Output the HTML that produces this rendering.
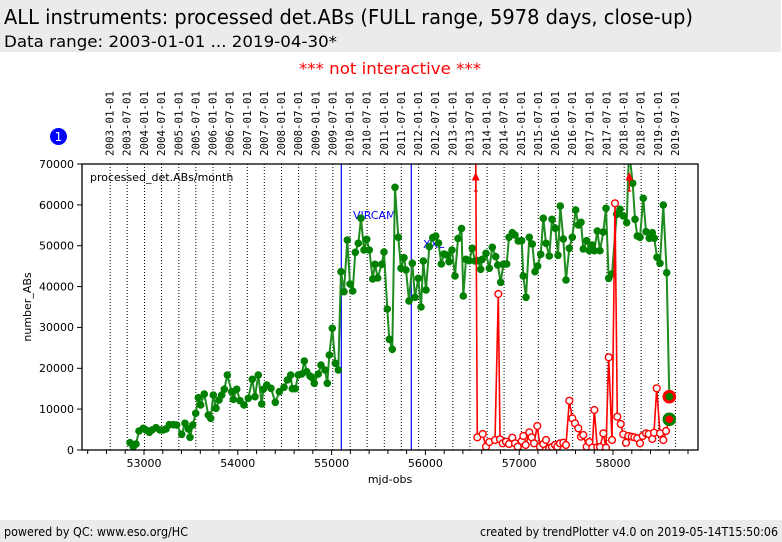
<!DOCTYPE html>
<html><head><meta charset="utf-8"><style>
html,body{margin:0;padding:0;background:#fff;}
svg{display:block;}
text{font-family:"DejaVu Sans","Liberation Sans",sans-serif;}
.mono{font-family:"DejaVu Sans Mono","Liberation Mono",monospace;}
</style></head><body>
<svg width="782" height="542" viewBox="0 0 782 542" xmlns="http://www.w3.org/2000/svg">
<rect x="0" y="0" width="782" height="542" fill="#fff"/>
<rect x="0" y="0" width="781" height="52" fill="#ebebeb"/>
<text x="4" y="24" font-size="20" fill="#000" textLength="689" lengthAdjust="spacingAndGlyphs">ALL instruments: processed det.ABs (FULL range, 5978 days, close-up)</text>
<text x="4" y="47" font-size="16" fill="#000" textLength="333" lengthAdjust="spacingAndGlyphs">Data range: 2003-01-01 ... 2019-04-30*</text>
<text x="299" y="74" font-size="16" fill="#ff0000" textLength="182" lengthAdjust="spacingAndGlyphs">*** not interactive ***</text>

<circle cx="58.5" cy="136.5" r="8.5" fill="#0000ff"/>
<text x="58.5" y="141" font-size="12" fill="#fff" text-anchor="middle">1</text>

<g font-size="10.5" fill="#000">
<text class="mono" transform="translate(113.7,156) rotate(-90)" text-anchor="start" textLength="65" lengthAdjust="spacingAndGlyphs">2003-01-01</text>
<text class="mono" transform="translate(130.7,156) rotate(-90)" text-anchor="start" textLength="65" lengthAdjust="spacingAndGlyphs">2003-07-01</text>
<text class="mono" transform="translate(148,156) rotate(-90)" text-anchor="start" textLength="65" lengthAdjust="spacingAndGlyphs">2004-01-01</text>
<text class="mono" transform="translate(165,156) rotate(-90)" text-anchor="start" textLength="65" lengthAdjust="spacingAndGlyphs">2004-07-01</text>
<text class="mono" transform="translate(182.3,156) rotate(-90)" text-anchor="start" textLength="65" lengthAdjust="spacingAndGlyphs">2005-01-01</text>
<text class="mono" transform="translate(199.3,156) rotate(-90)" text-anchor="start" textLength="65" lengthAdjust="spacingAndGlyphs">2005-07-01</text>
<text class="mono" transform="translate(216.5,156) rotate(-90)" text-anchor="start" textLength="65" lengthAdjust="spacingAndGlyphs">2006-01-01</text>
<text class="mono" transform="translate(233.5,156) rotate(-90)" text-anchor="start" textLength="65" lengthAdjust="spacingAndGlyphs">2006-07-01</text>
<text class="mono" transform="translate(250.8,156) rotate(-90)" text-anchor="start" textLength="65" lengthAdjust="spacingAndGlyphs">2007-01-01</text>
<text class="mono" transform="translate(267.8,156) rotate(-90)" text-anchor="start" textLength="65" lengthAdjust="spacingAndGlyphs">2007-07-01</text>
<text class="mono" transform="translate(285,156) rotate(-90)" text-anchor="start" textLength="65" lengthAdjust="spacingAndGlyphs">2008-01-01</text>
<text class="mono" transform="translate(302.1,156) rotate(-90)" text-anchor="start" textLength="65" lengthAdjust="spacingAndGlyphs">2008-07-01</text>
<text class="mono" transform="translate(319.3,156) rotate(-90)" text-anchor="start" textLength="65" lengthAdjust="spacingAndGlyphs">2009-01-01</text>
<text class="mono" transform="translate(336.3,156) rotate(-90)" text-anchor="start" textLength="65" lengthAdjust="spacingAndGlyphs">2009-07-01</text>
<text class="mono" transform="translate(353.6,156) rotate(-90)" text-anchor="start" textLength="65" lengthAdjust="spacingAndGlyphs">2010-01-01</text>
<text class="mono" transform="translate(370.6,156) rotate(-90)" text-anchor="start" textLength="65" lengthAdjust="spacingAndGlyphs">2010-07-01</text>
<text class="mono" transform="translate(387.8,156) rotate(-90)" text-anchor="start" textLength="65" lengthAdjust="spacingAndGlyphs">2011-01-01</text>
<text class="mono" transform="translate(404.8,156) rotate(-90)" text-anchor="start" textLength="65" lengthAdjust="spacingAndGlyphs">2011-07-01</text>
<text class="mono" transform="translate(422.1,156) rotate(-90)" text-anchor="start" textLength="65" lengthAdjust="spacingAndGlyphs">2012-01-01</text>
<text class="mono" transform="translate(439.1,156) rotate(-90)" text-anchor="start" textLength="65" lengthAdjust="spacingAndGlyphs">2012-07-01</text>
<text class="mono" transform="translate(456.4,156) rotate(-90)" text-anchor="start" textLength="65" lengthAdjust="spacingAndGlyphs">2013-01-01</text>
<text class="mono" transform="translate(473.4,156) rotate(-90)" text-anchor="start" textLength="65" lengthAdjust="spacingAndGlyphs">2013-07-01</text>
<text class="mono" transform="translate(490.6,156) rotate(-90)" text-anchor="start" textLength="65" lengthAdjust="spacingAndGlyphs">2014-01-01</text>
<text class="mono" transform="translate(507.6,156) rotate(-90)" text-anchor="start" textLength="65" lengthAdjust="spacingAndGlyphs">2014-07-01</text>
<text class="mono" transform="translate(524.9,156) rotate(-90)" text-anchor="start" textLength="65" lengthAdjust="spacingAndGlyphs">2015-01-01</text>
<text class="mono" transform="translate(541.8,156) rotate(-90)" text-anchor="start" textLength="65" lengthAdjust="spacingAndGlyphs">2015-07-01</text>
<text class="mono" transform="translate(559.1,156) rotate(-90)" text-anchor="start" textLength="65" lengthAdjust="spacingAndGlyphs">2016-01-01</text>
<text class="mono" transform="translate(576.2,156) rotate(-90)" text-anchor="start" textLength="65" lengthAdjust="spacingAndGlyphs">2016-07-01</text>
<text class="mono" transform="translate(593.4,156) rotate(-90)" text-anchor="start" textLength="65" lengthAdjust="spacingAndGlyphs">2017-01-01</text>
<text class="mono" transform="translate(610.4,156) rotate(-90)" text-anchor="start" textLength="65" lengthAdjust="spacingAndGlyphs">2017-07-01</text>
<text class="mono" transform="translate(627.7,156) rotate(-90)" text-anchor="start" textLength="65" lengthAdjust="spacingAndGlyphs">2018-01-01</text>
<text class="mono" transform="translate(644.6,156) rotate(-90)" text-anchor="start" textLength="65" lengthAdjust="spacingAndGlyphs">2018-07-01</text>
<text class="mono" transform="translate(661.9,156) rotate(-90)" text-anchor="start" textLength="65" lengthAdjust="spacingAndGlyphs">2019-01-01</text>
<text class="mono" transform="translate(678.9,156) rotate(-90)" text-anchor="start" textLength="65" lengthAdjust="spacingAndGlyphs">2019-07-01</text>
</g>

<defs><clipPath id="pc"><rect x="82" y="164" width="616" height="286"/></clipPath></defs>

<g stroke="#000" stroke-width="1" stroke-dasharray="1,2">
<line x1="110.2" y1="164" x2="110.2" y2="450"/><line x1="127.2" y1="164" x2="127.2" y2="450"/>
<line x1="144.5" y1="164" x2="144.5" y2="450"/><line x1="161.5" y1="164" x2="161.5" y2="450"/>
<line x1="178.8" y1="164" x2="178.8" y2="450"/><line x1="195.8" y1="164" x2="195.8" y2="450"/>
<line x1="213" y1="164" x2="213" y2="450"/><line x1="230" y1="164" x2="230" y2="450"/>
<line x1="247.3" y1="164" x2="247.3" y2="450"/><line x1="264.3" y1="164" x2="264.3" y2="450"/>
<line x1="281.5" y1="164" x2="281.5" y2="450"/><line x1="298.6" y1="164" x2="298.6" y2="450"/>
<line x1="315.8" y1="164" x2="315.8" y2="450"/><line x1="332.8" y1="164" x2="332.8" y2="450"/>
<line x1="350.1" y1="164" x2="350.1" y2="450"/><line x1="367.1" y1="164" x2="367.1" y2="450"/>
<line x1="384.3" y1="164" x2="384.3" y2="450"/><line x1="401.3" y1="164" x2="401.3" y2="450"/>
<line x1="418.6" y1="164" x2="418.6" y2="450"/><line x1="435.6" y1="164" x2="435.6" y2="450"/>
<line x1="452.9" y1="164" x2="452.9" y2="450"/><line x1="469.9" y1="164" x2="469.9" y2="450"/>
<line x1="487.1" y1="164" x2="487.1" y2="450"/><line x1="504.1" y1="164" x2="504.1" y2="450"/>
<line x1="521.4" y1="164" x2="521.4" y2="450"/><line x1="538.3" y1="164" x2="538.3" y2="450"/>
<line x1="555.6" y1="164" x2="555.6" y2="450"/><line x1="572.7" y1="164" x2="572.7" y2="450"/>
<line x1="589.9" y1="164" x2="589.9" y2="450"/><line x1="606.9" y1="164" x2="606.9" y2="450"/>
<line x1="624.2" y1="164" x2="624.2" y2="450"/><line x1="641.1" y1="164" x2="641.1" y2="450"/>
<line x1="658.4" y1="164" x2="658.4" y2="450"/><line x1="675.4" y1="164" x2="675.4" y2="450"/>
</g>

<line x1="341.3" y1="164" x2="341.3" y2="450" stroke="#0000ff" stroke-width="1.2"/>
<line x1="411.3" y1="164" x2="411.3" y2="450" stroke="#0000ff" stroke-width="1.2"/>
<text x="353" y="219" font-size="11" fill="#0000ff">VIRCAM</text>
<text x="423" y="248" font-size="11" fill="#0000ff">XXL</text>

<text x="90" y="181" font-size="11" fill="#000">processed_det.ABs/month</text>

<g clip-path="url(#pc)">
<polyline fill="none" stroke="#1e8c1e" stroke-width="2" stroke-linejoin="round" points="130,442.7 133.3,446.7 136,444 139,431 143.3,428.3 146,430 149.3,432.3 152,430 156,427.7 160,430 163,430 166,429 169.3,424.7 173.3,424.7 176.7,425 181.7,434.3 185,423.3 188.3,429 190,437.3 192.7,425 195.7,413.3 198.3,397.7 200.7,405 204.3,394 208.3,415 210.7,418.3 213.3,395 216,408.3 219,400 221.7,395 224.3,389.3 227.3,375 231.7,391.7 233.3,399.3 236.7,389.3 240,400.7 244,405 248.3,398.3 252.3,379.3 255,396.7 258.3,375 261.7,404 263.3,389.3 266.7,385 271,388.3 275.3,402.3 279.3,391.7 284,387.3 287.3,380 290.7,375 292.3,388.7 295.3,388.7 298.3,375 301.7,374 304.3,361 306.7,371.7 310,376 311.7,377.3 314.3,383.3 318.3,374 321,365 325,370 327.3,383.3 329.3,355 332.3,328.3 335.3,363.3 338.3,370 341,271.7 344,291.7 347.3,240 350,284 352.7,291 355.3,252.3 358.3,243.3 361,218.3 364,250 366.7,239.3 369.3,250 372.7,279 375,264.3 377.7,278 381.7,264.3 384,252 387.3,309 389.3,339.3 392.3,349.3 395,187.3 398.3,237.3 401,268.3 404,257.7 406,270 409,301 412.3,263.3 415,297.3 418.3,278.3 421,307 423.3,261 426,290 429.3,246.7 432.7,237.7 435.7,236 438.5,243 441.3,264 444,254 446.7,255 449,261.7 452,250 455,276 458,238.5 461.5,228.5 463.3,296 466,259.3 469.3,260.7 472.3,248.3 475,261 478.3,260.7 480.7,269.3 482.3,259.3 486,253.3 489.3,268.3 492.3,247.3 495.7,256.7 497.7,265 500.7,282.3 503.3,264.3 506.7,264 509,237.3 512.3,232.7 515,235 518.3,241 521.7,240.7 523.3,276 526,297.3 529.3,237.3 532.3,244 535,271.7 537.7,266 540.7,254.3 543.3,218.3 546,243.3 549.3,256 552,219.3 555.3,228.3 558,255.3 560.3,206 563.3,239 566,280 569.3,248.3 572.3,237.3 575.7,210 578.3,225 581,222.3 583.3,249 586.7,240.7 589.3,250.7 592.3,245 594.3,250.7 597.3,231 600,250.7 603.3,232 606,208.3 608.7,278.3 612,274 616.7,214.3 620,209.3 623.3,216 626.7,222.7 629,150 632.7,183.3 635,219.3 637.3,236 640,237.3 643.3,198.3 646,231.7 649.3,238.3 652.3,232.7 654.3,238.3 657,257.3 660,263.3 663.3,205 666.7,272.7 669.3,396.7"/>
<g fill="#008000">
<circle cx="130" cy="442.7" r="3.8"/><circle cx="133.3" cy="446.7" r="3.8"/><circle cx="136" cy="444" r="3.8"/><circle cx="139" cy="431" r="3.8"/><circle cx="143.3" cy="428.3" r="3.8"/><circle cx="146" cy="430" r="3.8"/><circle cx="149.3" cy="432.3" r="3.8"/><circle cx="152" cy="430" r="3.8"/><circle cx="156" cy="427.7" r="3.8"/><circle cx="160" cy="430" r="3.8"/><circle cx="163" cy="430" r="3.8"/><circle cx="166" cy="429" r="3.8"/><circle cx="169.3" cy="424.7" r="3.8"/><circle cx="173.3" cy="424.7" r="3.8"/><circle cx="176.7" cy="425" r="3.8"/><circle cx="181.7" cy="434.3" r="3.8"/><circle cx="185" cy="423.3" r="3.8"/><circle cx="188.3" cy="429" r="3.8"/><circle cx="190" cy="437.3" r="3.8"/><circle cx="192.7" cy="425" r="3.8"/><circle cx="195.7" cy="413.3" r="3.8"/><circle cx="198.3" cy="397.7" r="3.8"/><circle cx="200.7" cy="405" r="3.8"/><circle cx="204.3" cy="394" r="3.8"/><circle cx="208.3" cy="415" r="3.8"/><circle cx="210.7" cy="418.3" r="3.8"/><circle cx="213.3" cy="395" r="3.8"/><circle cx="216" cy="408.3" r="3.8"/><circle cx="219" cy="400" r="3.8"/><circle cx="221.7" cy="395" r="3.8"/><circle cx="224.3" cy="389.3" r="3.8"/><circle cx="227.3" cy="375" r="3.8"/><circle cx="231.7" cy="391.7" r="3.8"/><circle cx="233.3" cy="399.3" r="3.8"/><circle cx="236.7" cy="389.3" r="3.8"/><circle cx="240" cy="400.7" r="3.8"/><circle cx="244" cy="405" r="3.8"/><circle cx="248.3" cy="398.3" r="3.8"/><circle cx="252.3" cy="379.3" r="3.8"/><circle cx="255" cy="396.7" r="3.8"/><circle cx="258.3" cy="375" r="3.8"/><circle cx="261.7" cy="404" r="3.8"/><circle cx="263.3" cy="389.3" r="3.8"/><circle cx="266.7" cy="385" r="3.8"/><circle cx="271" cy="388.3" r="3.8"/><circle cx="275.3" cy="402.3" r="3.8"/><circle cx="279.3" cy="391.7" r="3.8"/><circle cx="284" cy="387.3" r="3.8"/><circle cx="287.3" cy="380" r="3.8"/><circle cx="290.7" cy="375" r="3.8"/><circle cx="292.3" cy="388.7" r="3.8"/><circle cx="295.3" cy="388.7" r="3.8"/><circle cx="298.3" cy="375" r="3.8"/><circle cx="301.7" cy="374" r="3.8"/><circle cx="304.3" cy="361" r="3.8"/><circle cx="306.7" cy="371.7" r="3.8"/><circle cx="310" cy="376" r="3.8"/><circle cx="311.7" cy="377.3" r="3.8"/><circle cx="314.3" cy="383.3" r="3.8"/><circle cx="318.3" cy="374" r="3.8"/><circle cx="321" cy="365" r="3.8"/><circle cx="325" cy="370" r="3.8"/><circle cx="327.3" cy="383.3" r="3.8"/><circle cx="329.3" cy="355" r="3.8"/><circle cx="332.3" cy="328.3" r="3.8"/><circle cx="335.3" cy="363.3" r="3.8"/><circle cx="338.3" cy="370" r="3.8"/><circle cx="341" cy="271.7" r="3.8"/><circle cx="344" cy="291.7" r="3.8"/><circle cx="347.3" cy="240" r="3.8"/><circle cx="350" cy="284" r="3.8"/><circle cx="352.7" cy="291" r="3.8"/><circle cx="355.3" cy="252.3" r="3.8"/><circle cx="358.3" cy="243.3" r="3.8"/><circle cx="361" cy="218.3" r="3.8"/><circle cx="364" cy="250" r="3.8"/><circle cx="366.7" cy="239.3" r="3.8"/><circle cx="369.3" cy="250" r="3.8"/><circle cx="372.7" cy="279" r="3.8"/><circle cx="375" cy="264.3" r="3.8"/><circle cx="377.7" cy="278" r="3.8"/><circle cx="381.7" cy="264.3" r="3.8"/><circle cx="384" cy="252" r="3.8"/><circle cx="387.3" cy="309" r="3.8"/><circle cx="389.3" cy="339.3" r="3.8"/><circle cx="392.3" cy="349.3" r="3.8"/><circle cx="395" cy="187.3" r="3.8"/><circle cx="398.3" cy="237.3" r="3.8"/><circle cx="401" cy="268.3" r="3.8"/><circle cx="404" cy="257.7" r="3.8"/><circle cx="406" cy="270" r="3.8"/><circle cx="409" cy="301" r="3.8"/><circle cx="412.3" cy="263.3" r="3.8"/><circle cx="415" cy="297.3" r="3.8"/><circle cx="418.3" cy="278.3" r="3.8"/><circle cx="421" cy="307" r="3.8"/><circle cx="423.3" cy="261" r="3.8"/><circle cx="426" cy="290" r="3.8"/><circle cx="429.3" cy="246.7" r="3.8"/><circle cx="432.7" cy="237.7" r="3.8"/><circle cx="435.7" cy="236" r="3.8"/><circle cx="438.5" cy="243" r="3.8"/><circle cx="441.3" cy="264" r="3.8"/><circle cx="444" cy="254" r="3.8"/><circle cx="446.7" cy="255" r="3.8"/><circle cx="449" cy="261.7" r="3.8"/><circle cx="452" cy="250" r="3.8"/><circle cx="455" cy="276" r="3.8"/><circle cx="458" cy="238.5" r="3.8"/><circle cx="461.5" cy="228.5" r="3.8"/><circle cx="463.3" cy="296" r="3.8"/><circle cx="466" cy="259.3" r="3.8"/><circle cx="469.3" cy="260.7" r="3.8"/><circle cx="472.3" cy="248.3" r="3.8"/><circle cx="475" cy="261" r="3.8"/><circle cx="478.3" cy="260.7" r="3.8"/><circle cx="480.7" cy="269.3" r="3.8"/><circle cx="482.3" cy="259.3" r="3.8"/><circle cx="486" cy="253.3" r="3.8"/><circle cx="489.3" cy="268.3" r="3.8"/><circle cx="492.3" cy="247.3" r="3.8"/><circle cx="495.7" cy="256.7" r="3.8"/><circle cx="497.7" cy="265" r="3.8"/><circle cx="500.7" cy="282.3" r="3.8"/><circle cx="503.3" cy="264.3" r="3.8"/><circle cx="506.7" cy="264" r="3.8"/><circle cx="509" cy="237.3" r="3.8"/><circle cx="512.3" cy="232.7" r="3.8"/><circle cx="515" cy="235" r="3.8"/><circle cx="518.3" cy="241" r="3.8"/><circle cx="521.7" cy="240.7" r="3.8"/><circle cx="523.3" cy="276" r="3.8"/><circle cx="526" cy="297.3" r="3.8"/><circle cx="529.3" cy="237.3" r="3.8"/><circle cx="532.3" cy="244" r="3.8"/><circle cx="535" cy="271.7" r="3.8"/><circle cx="537.7" cy="266" r="3.8"/><circle cx="540.7" cy="254.3" r="3.8"/><circle cx="543.3" cy="218.3" r="3.8"/><circle cx="546" cy="243.3" r="3.8"/><circle cx="549.3" cy="256" r="3.8"/><circle cx="552" cy="219.3" r="3.8"/><circle cx="555.3" cy="228.3" r="3.8"/><circle cx="558" cy="255.3" r="3.8"/><circle cx="560.3" cy="206" r="3.8"/><circle cx="563.3" cy="239" r="3.8"/><circle cx="566" cy="280" r="3.8"/><circle cx="569.3" cy="248.3" r="3.8"/><circle cx="572.3" cy="237.3" r="3.8"/><circle cx="575.7" cy="210" r="3.8"/><circle cx="578.3" cy="225" r="3.8"/><circle cx="581" cy="222.3" r="3.8"/><circle cx="583.3" cy="249" r="3.8"/><circle cx="586.7" cy="240.7" r="3.8"/><circle cx="589.3" cy="250.7" r="3.8"/><circle cx="592.3" cy="245" r="3.8"/><circle cx="594.3" cy="250.7" r="3.8"/><circle cx="597.3" cy="231" r="3.8"/><circle cx="600" cy="250.7" r="3.8"/><circle cx="603.3" cy="232" r="3.8"/><circle cx="606" cy="208.3" r="3.8"/><circle cx="608.7" cy="278.3" r="3.8"/><circle cx="612" cy="274" r="3.8"/><circle cx="616.7" cy="214.3" r="3.8"/><circle cx="620" cy="209.3" r="3.8"/><circle cx="623.3" cy="216" r="3.8"/><circle cx="626.7" cy="222.7" r="3.8"/><circle cx="632.7" cy="183.3" r="3.8"/><circle cx="635" cy="219.3" r="3.8"/><circle cx="637.3" cy="236" r="3.8"/><circle cx="640" cy="237.3" r="3.8"/><circle cx="643.3" cy="198.3" r="3.8"/><circle cx="646" cy="231.7" r="3.8"/><circle cx="649.3" cy="238.3" r="3.8"/><circle cx="652.3" cy="232.7" r="3.8"/><circle cx="654.3" cy="238.3" r="3.8"/><circle cx="657" cy="257.3" r="3.8"/><circle cx="660" cy="263.3" r="3.8"/><circle cx="663.3" cy="205" r="3.8"/><circle cx="666.7" cy="272.7" r="3.8"/>
</g>

<polyline fill="none" stroke="#ff0000" stroke-width="1.6" stroke-linejoin="round" points="475.7,150 477.3,437.3 482.7,434 486,446.7 489.3,442 495,440 498.3,294 500,439.3 502.7,443.3 506,441.7 509,444 512.3,437.7 515,443.3 517.7,446.7 521.7,441 523.3,436 525.7,445 529.3,432.3 531.7,437.3 534,443.3 537.3,426 540,446.7 543.3,444 546,440 549.3,448.3 552,447 555,445 557.3,446.7 560,443.3 563.3,442.7 566,445 569.3,400.7 572.3,418.3 575,423.3 578.3,428.3 581,436.7 583.3,435 586.7,446.7 589.3,442 592.3,447.7 594.3,410 597.3,447.3 600,447 603.3,433.3 606,447.7 608.7,357.3 612,440 615,203.3 617.3,416.7 620.7,424 623.3,434.3 626,442.7 628.3,436 631.7,436.7 634.3,437.3 637.3,438.3 640,443.3 642.7,436 646,433.3 648.7,434 652.3,439 654,432.7 656.7,388.3 660,433.3 663.3,440 666,431 669.3,419.3"/>
<g fill="#fff" stroke="#ff0000" stroke-width="1.4">
<circle cx="477.3" cy="437.3" r="3.4"/><circle cx="482.7" cy="434" r="3.4"/><circle cx="486" cy="446.7" r="3.4"/><circle cx="489.3" cy="442" r="3.4"/><circle cx="495" cy="440" r="3.4"/><circle cx="498.3" cy="294" r="3.4"/><circle cx="500" cy="439.3" r="3.4"/><circle cx="502.7" cy="443.3" r="3.4"/><circle cx="506" cy="441.7" r="3.4"/><circle cx="509" cy="444" r="3.4"/><circle cx="512.3" cy="437.7" r="3.4"/><circle cx="515" cy="443.3" r="3.4"/><circle cx="517.7" cy="446.7" r="3.4"/><circle cx="521.7" cy="441" r="3.4"/><circle cx="523.3" cy="436" r="3.4"/><circle cx="525.7" cy="445" r="3.4"/><circle cx="529.3" cy="432.3" r="3.4"/><circle cx="531.7" cy="437.3" r="3.4"/><circle cx="534" cy="443.3" r="3.4"/><circle cx="537.3" cy="426" r="3.4"/><circle cx="540" cy="446.7" r="3.4"/><circle cx="543.3" cy="444" r="3.4"/><circle cx="546" cy="440" r="3.4"/><circle cx="549.3" cy="448.3" r="3.4"/><circle cx="552" cy="447" r="3.4"/><circle cx="555" cy="445" r="3.4"/><circle cx="557.3" cy="446.7" r="3.4"/><circle cx="560" cy="443.3" r="3.4"/><circle cx="563.3" cy="442.7" r="3.4"/><circle cx="566" cy="445" r="3.4"/><circle cx="569.3" cy="400.7" r="3.4"/><circle cx="572.3" cy="418.3" r="3.4"/><circle cx="575" cy="423.3" r="3.4"/><circle cx="578.3" cy="428.3" r="3.4"/><circle cx="581" cy="436.7" r="3.4"/><circle cx="583.3" cy="435" r="3.4"/><circle cx="586.7" cy="446.7" r="3.4"/><circle cx="589.3" cy="442" r="3.4"/><circle cx="592.3" cy="447.7" r="3.4"/><circle cx="594.3" cy="410" r="3.4"/><circle cx="597.3" cy="447.3" r="3.4"/><circle cx="600" cy="447" r="3.4"/><circle cx="603.3" cy="433.3" r="3.4"/><circle cx="606" cy="447.7" r="3.4"/><circle cx="608.7" cy="357.3" r="3.4"/><circle cx="612" cy="440" r="3.4"/><circle cx="615" cy="203.3" r="3.4"/><circle cx="617.3" cy="416.7" r="3.4"/><circle cx="620.7" cy="424" r="3.4"/><circle cx="623.3" cy="434.3" r="3.4"/><circle cx="626" cy="442.7" r="3.4"/><circle cx="628.3" cy="436" r="3.4"/><circle cx="631.7" cy="436.7" r="3.4"/><circle cx="634.3" cy="437.3" r="3.4"/><circle cx="637.3" cy="438.3" r="3.4"/><circle cx="640" cy="443.3" r="3.4"/><circle cx="642.7" cy="436" r="3.4"/><circle cx="646" cy="433.3" r="3.4"/><circle cx="648.7" cy="434" r="3.4"/><circle cx="652.3" cy="439" r="3.4"/><circle cx="654" cy="432.7" r="3.4"/><circle cx="656.7" cy="388.3" r="3.4"/><circle cx="660" cy="433.3" r="3.4"/><circle cx="663.3" cy="440" r="3.4"/><circle cx="666" cy="431" r="3.4"/>
</g>

<g fill="#ff0000" stroke="#ff0000" stroke-width="1.2">
<polygon points="475.7,172 471.8,180.5 479.6,180.5" stroke="none"/>
<line x1="475.7" y1="180" x2="475.7" y2="191.5"/>
<line x1="473.7" y1="191" x2="477.7" y2="191"/>
<polygon points="629.3,172 625.4,180.5 633.2,180.5" stroke="none"/>
<line x1="629.3" y1="180" x2="629.3" y2="191.5"/>
<line x1="627.3" y1="191" x2="631.3" y2="191"/>
</g>

<circle cx="669.3" cy="396.7" r="6.8" fill="#ff0000"/>
<circle cx="669.3" cy="396.7" r="3.8" fill="#008000"/>
<circle cx="669.3" cy="419.3" r="6.8" fill="#008000"/>
<circle cx="669.3" cy="419.3" r="3.8" fill="#ff0000"/>
</g>

<rect x="82" y="164" width="616" height="286" fill="none" stroke="#000" stroke-width="1.3"/>

<g stroke="#000" stroke-width="1">
<line x1="77" y1="450" x2="82" y2="450"/><line x1="77" y1="409.1" x2="82" y2="409.1"/>
<line x1="77" y1="368.3" x2="82" y2="368.3"/><line x1="77" y1="327.4" x2="82" y2="327.4"/>
<line x1="77" y1="286.6" x2="82" y2="286.6"/><line x1="77" y1="245.7" x2="82" y2="245.7"/>
<line x1="77" y1="204.9" x2="82" y2="204.9"/><line x1="77" y1="164" x2="82" y2="164"/>
</g>
<g font-size="11" fill="#000" text-anchor="end">
<text x="74" y="454">0</text><text x="74" y="413">10000</text><text x="74" y="372">20000</text>
<text x="74" y="331">30000</text><text x="74" y="290.5">40000</text><text x="74" y="249.5">50000</text>
<text x="74" y="209">60000</text><text x="74" y="168">70000</text>
</g>

<g stroke="#000" stroke-width="1">
<line x1="87.7" y1="450" x2="87.7" y2="454"/><line x1="106.5" y1="450" x2="106.5" y2="454"/><line x1="125.2" y1="450" x2="125.2" y2="454"/><line x1="144" y1="450" x2="144" y2="455"/>
<line x1="162.8" y1="450" x2="162.8" y2="454"/><line x1="181.5" y1="450" x2="181.5" y2="454"/><line x1="200.3" y1="450" x2="200.3" y2="454"/><line x1="219" y1="450" x2="219" y2="454"/>
<line x1="237.8" y1="450" x2="237.8" y2="455"/><line x1="256.6" y1="450" x2="256.6" y2="454"/><line x1="275.3" y1="450" x2="275.3" y2="454"/><line x1="294.1" y1="450" x2="294.1" y2="454"/>
<line x1="312.8" y1="450" x2="312.8" y2="454"/><line x1="331.6" y1="450" x2="331.6" y2="455"/><line x1="350.4" y1="450" x2="350.4" y2="454"/><line x1="369.1" y1="450" x2="369.1" y2="454"/>
<line x1="387.9" y1="450" x2="387.9" y2="454"/><line x1="406.6" y1="450" x2="406.6" y2="454"/><line x1="425.4" y1="450" x2="425.4" y2="455"/><line x1="444.2" y1="450" x2="444.2" y2="454"/>
<line x1="462.9" y1="450" x2="462.9" y2="454"/><line x1="481.7" y1="450" x2="481.7" y2="454"/><line x1="500.4" y1="450" x2="500.4" y2="454"/><line x1="519.2" y1="450" x2="519.2" y2="455"/>
<line x1="538" y1="450" x2="538" y2="454"/><line x1="556.7" y1="450" x2="556.7" y2="454"/><line x1="575.5" y1="450" x2="575.5" y2="454"/><line x1="594.2" y1="450" x2="594.2" y2="454"/>
<line x1="613" y1="450" x2="613" y2="455"/><line x1="631.8" y1="450" x2="631.8" y2="454"/><line x1="650.5" y1="450" x2="650.5" y2="454"/><line x1="669.3" y1="450" x2="669.3" y2="454"/>
<line x1="688" y1="450" x2="688" y2="454"/>
</g>
<g font-size="11" fill="#000" text-anchor="middle">
<text x="144" y="467">53000</text><text x="237.8" y="467">54000</text><text x="331.6" y="467">55000</text>
<text x="425.4" y="467">56000</text><text x="519.2" y="467">57000</text><text x="613" y="467">58000</text>
</g>
<text x="390" y="483" font-size="11" fill="#000" text-anchor="middle">mjd-obs</text>
<text transform="translate(31,307) rotate(-90)" font-size="11" fill="#000" text-anchor="middle">number_ABs</text>

<rect x="0" y="520" width="782" height="22" fill="#ebebeb"/>
<text x="4" y="536" font-size="12" fill="#000" textLength="184" lengthAdjust="spacingAndGlyphs">powered by QC: www.eso.org/HC</text>
<text x="778" y="536" font-size="12" fill="#000" text-anchor="end" textLength="298" lengthAdjust="spacingAndGlyphs">created by trendPlotter v4.0 on 2019-05-14T15:50:06</text>
</svg>
</body></html>
